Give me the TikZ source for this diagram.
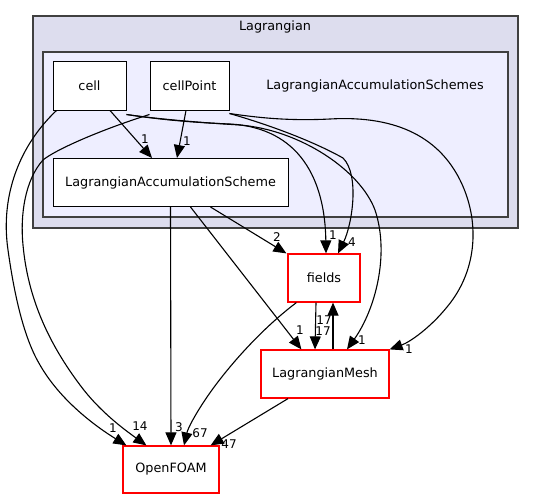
\documentclass[tikz,border=0pt]{standalone}
\usepackage{fontspec}
\setmainfont{DejaVu Sans}
\usetikzlibrary{arrows.meta}
\newcommand{\nodefont}{\fontsize{12.8}{15}\selectfont}
\newcommand{\lblfont}{\fontsize{12}{14}\selectfont}
\definecolor{outerfill}{HTML}{DDDDEE}
\definecolor{innerfill}{HTML}{EEEEFF}
\definecolor{clusterline}{HTML}{404040}
\definecolor{extred}{HTML}{FF0000}
\tikzset{
  dirbox/.style={draw=black, fill=white, minimum height=48pt, inner sep=0pt, font=\nodefont, line width=1pt},
  extbox/.style={draw=extred, fill=white, minimum height=48pt, inner sep=0pt, font=\nodefont, line width=1.2pt},
  elabel/.style={font=\lblfont, inner sep=0pt},
  dep/.style={line width=1.1pt, -{Triangle[length=13pt,width=11pt]}},
  clustertitle/.style={font=\nodefont, inner sep=0pt}
}
\begin{document}
\begin{tikzpicture}[x=1pt,y=-1pt]
\useasboundingbox (0,0) rectangle (534,500);
% clusters
\draw[fill=outerfill, draw=clusterline, line width=1.2pt] (33,16) rectangle (518,228);
\node[clustertitle] (lagtitle) at (275,27) {Lagrangian};
\draw[fill=innerfill, draw=clusterline, line width=1.2pt] (43,52) rectangle (508,217);
\node[clustertitle] (lastitle) at (375,86) {LagrangianAccumulationSchemes};
% nodes
\node[dirbox, minimum width=73pt] (cell) at (89.5,86) {cell};
\node[dirbox, minimum width=79pt] (cellPoint) at (189.5,86) {cellPoint};
\node[dirbox, minimum width=235pt] (las) at (170.5,182.5) {LagrangianAccumulationScheme};
\node[extbox, minimum width=72pt] (fields) at (324,278) {fields};
\node[extbox, minimum width=128pt] (mesh) at (325,374) {LagrangianMesh};
\node[extbox, minimum width=96pt, minimum height=47pt] (foam) at (171,469.5) {OpenFOAM};
% edges
\draw[dep] ([xshift=20.5pt]cell.south) -- ([xshift=-18.5pt]las.north);
\node[elabel] (l1) at (145,139) {1};
\draw[dep] ([xshift=-3.5pt]cellPoint.south) -- ([xshift=6.5pt]las.north);
\node[elabel] (l2) at (187,141) {1};
% cell -> OpenFOAM
\draw[dep] ([xshift=4pt]cell.south west) .. controls (20,145) and (0,195) .. (8,250)
  .. controls (15,300) and (25,340) .. (40,365)
  .. controls (60,400) and (95,426) .. ([xshift=4pt]foam.north west);
\node[elabel] (l3) at (113,428) {1};
% cellPoint -> OpenFOAM
\draw[dep] ([yshift=-4pt]cellPoint.south west) .. controls (100,130) and (55,150) .. (43,160)
  .. controls (25,180) and (20,215) .. (23,245)
  .. controls (28,300) and (50,345) .. (80,385)
  .. controls (100,412) and (125,430) .. ([xshift=24pt]foam.north west);
\node[elabel] (l4) at (140,426) {14};
% cell -> fields
\draw[dep] ([yshift=-4pt]cell.south east) .. controls (150,118) and (180,122) .. (230,124)
  .. controls (300,128) and (325,180) .. ([xshift=2pt]fields.north);
\node[elabel] (l5) at (333,235) {1};
% cell -> LagrangianMesh
\draw[dep] ([yshift=-4pt]cell.south east) .. controls (150,118) and (190,122) .. (240,125)
  .. controls (300,130) and (360,170) .. (375,210)
  .. controls (390,255) and (375,310) .. ([xshift=22pt]mesh.north);
\node[elabel] (l6) at (362,340) {1};
% cellPoint -> fields
\draw[dep] ([yshift=-3pt]cellPoint.south east) .. controls (280,128) and (320,145) .. (343,158)
  .. controls (360,175) and (352,225) .. ([xshift=14pt]fields.north);
\node[elabel] (l7) at (352,242) {4};
% cellPoint -> LagrangianMesh
\draw[dep] ([yshift=-3pt]cellPoint.south east) .. controls (260,118) and (290,121) .. (330,119)
  .. controls (400,115) and (440,140) .. (460,180)
  .. controls (480,220) and (478,270) .. (447,307)
  .. controls (430,328) and (410,342) .. (mesh.north east);
\node[elabel] (l8) at (409,349) {1};
% LAS -> OpenFOAM
\draw[dep] (las.south) -- (foam.north);
\node[elabel] (l9) at (179,427) {3};
% LAS -> fields
\draw[dep] ([xshift=-78pt]las.south east) -- ([xshift=-1pt]fields.north west);
\node[elabel] (l10) at (277,237) {2};
% LAS -> LagrangianMesh
\draw[dep] ([xshift=-98pt]las.south east) -- ([xshift=41pt]mesh.north west);
\node[elabel] (l11) at (300,330) {1};
% fields -> OpenFOAM
\draw[dep] ([xshift=9pt]fields.south west) .. controls (260,330) and (225,370) .. (205,400)
  .. controls (195,415) and (188,428) .. ([xshift=13pt]foam.north);
\node[elabel] (l12) at (200,433) {67};
% fields <-> LagrangianMesh
\draw[dep] ([xshift=-8pt]fields.south) -- ([xshift=-10pt]mesh.north);
\node[elabel] (l13) at (323,331) {17};
\draw[dep] ([xshift=8pt]mesh.north) -- ([xshift=9pt]fields.south);
\node[elabel] (l14) at (324,320) {17};
% LagrangianMesh -> OpenFOAM
\draw[dep] ([xshift=-37pt]mesh.south) -- ([xshift=-9pt]foam.north east);
\node[elabel] (l15) at (229,444) {47};
\end{tikzpicture}
\end{document}
